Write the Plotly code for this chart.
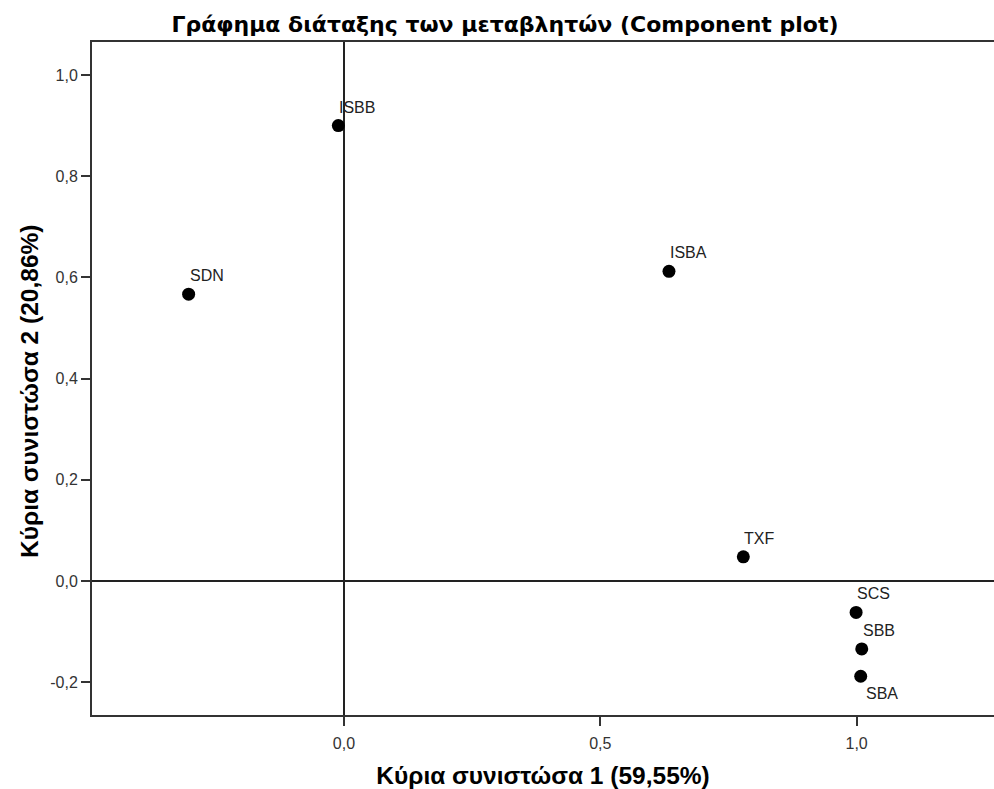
import plotly.graph_objects as go

# Component loadings (PC1, PC2) for each variable
variables = ["ISBB", "SDN", "ISBA", "TXF", "SCS", "SBB", "SBA"]
pc1 = [-0.011, -0.303, 0.634, 0.779, 0.999, 1.010, 1.008]
pc2 = [0.900, 0.567, 0.612, 0.048, -0.062, -0.134, -0.188]
label_below = [False, False, False, False, False, False, True]

x_ticks = [0.0, 0.5, 1.0]
x_tick_labels = ["0,0", "0,5", "1,0"]
y_ticks = [-0.2, 0.0, 0.2, 0.4, 0.6, 0.8, 1.0]
y_tick_labels = ["-0,2", "0,0", "0,2", "0,4", "0,6", "0,8", "1,0"]

FONT = "Liberation Sans, Arial, sans-serif"
TITLE_FONT = "DejaVu Sans, Verdana, sans-serif"

fig = go.Figure()
fig.add_trace(go.Scatter(
    x=pc1, y=pc2, mode="markers",
    marker=dict(size=13, color="black"),
    hoverinfo="skip", showlegend=False,
))

# Variable names next to their points
for name, x, y, below in zip(variables, pc1, pc2, label_below):
    fig.add_annotation(
        x=x, y=y, text=name, showarrow=False,
        xanchor="left", yanchor="top" if below else "bottom",
        xshift=3 if below else -1,
        yshift=-7 if below else 8,
        font=dict(family=FONT, size=16, color="#222222"),
    )

# Vertical axis title
fig.add_annotation(
    text="<b>Κύρια συνιστώσα 2 (20,86%)</b>", textangle=-90,
    xref="paper", yref="paper", x=0, y=0.480,
    xanchor="center", yanchor="middle", xshift=-62, showarrow=False,
    font=dict(family=FONT, size=24.5, color="black"),
)

fig.update_layout(
    width=994, height=789,
    margin=dict(l=92, r=0, t=42, b=74),
    paper_bgcolor="white", plot_bgcolor="white",
    title=dict(
        text="<b>Γράφημα διάταξης των μεταβλητών (Component plot)</b>",
        x=0.508, xanchor="center", y=0.969, yanchor="middle",
        font=dict(family=TITLE_FONT, size=22, color="black"),
    ),
    font=dict(family=FONT, size=16, color="#333333"),
)

fig.update_xaxes(
    range=[-0.4915, 1.268],
    tickvals=x_ticks, ticktext=x_tick_labels,
    ticks="outside", ticklen=9, tickwidth=2, tickcolor="#333333",
    ticklabelstandoff=4,
    showgrid=False,
    showline=True, linewidth=2, linecolor="#333333", mirror=True,
    zeroline=True, zerolinecolor="#222222", zerolinewidth=2,
    title=dict(text="<b>Κύρια συνιστώσα 1 (59,55%)</b>", standoff=16,
               font=dict(family=FONT, size=24.5, color="black")),
    tickfont=dict(size=16, color="#333333"),
)

fig.update_yaxes(
    range=[-0.2646, 1.0652],
    tickvals=y_ticks, ticktext=y_tick_labels,
    ticks="outside", ticklen=9, tickwidth=2, tickcolor="#333333",
    showgrid=False,
    showline=True, linewidth=2, linecolor="#333333", mirror=False,
    zeroline=True, zerolinecolor="#222222", zerolinewidth=2,
    tickfont=dict(size=16, color="#333333"),
)

fig.write_html("out.html")
